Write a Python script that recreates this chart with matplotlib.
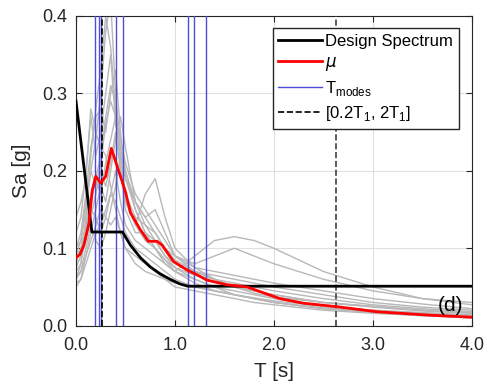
import numpy as np
import matplotlib.pyplot as plt

plt.rcParams['font.family'] = ['Liberation Sans', 'DejaVu Sans']

# periods of the individual record spectra
T_rec = [0, 0.05, 0.1, 0.15, 0.2, 0.25, 0.3, 0.35, 0.4, 0.45, 0.5, 0.6, 0.7,
         0.8, 0.9, 1.0, 1.2, 1.4, 1.6, 1.8, 2.0, 2.5, 3.0, 3.5, 4.0]
records = [
    [0.09, 0.11, 0.16, 0.20, 0.24, 0.30, 0.38, 0.42, 0.30, 0.22, 0.17, 0.13, 0.11, 0.10, 0.08, 0.07, 0.06, 0.05, 0.045, 0.04, 0.035, 0.025, 0.02, 0.016, 0.013],
    [0.06, 0.08, 0.14, 0.22, 0.28, 0.33, 0.40, 0.36, 0.28, 0.20, 0.15, 0.12, 0.12, 0.11, 0.09, 0.075, 0.06, 0.05, 0.04, 0.035, 0.03, 0.022, 0.018, 0.014, 0.011],
    [0.12, 0.14, 0.20, 0.27, 0.22, 0.25, 0.30, 0.35, 0.26, 0.23, 0.19, 0.16, 0.14, 0.15, 0.12, 0.09, 0.07, 0.06, 0.05, 0.042, 0.037, 0.03, 0.024, 0.019, 0.016],
    [0.08, 0.10, 0.13, 0.17, 0.19, 0.17, 0.21, 0.24, 0.27, 0.22, 0.16, 0.13, 0.17, 0.19, 0.14, 0.10, 0.075, 0.06, 0.05, 0.045, 0.04, 0.03, 0.025, 0.02, 0.017],
    [0.05, 0.06, 0.09, 0.12, 0.15, 0.18, 0.16, 0.20, 0.24, 0.27, 0.23, 0.16, 0.13, 0.12, 0.10, 0.09, 0.08, 0.09, 0.10, 0.09, 0.08, 0.06, 0.045, 0.035, 0.03],
    [0.07, 0.08, 0.12, 0.15, 0.14, 0.12, 0.14, 0.17, 0.20, 0.16, 0.13, 0.11, 0.10, 0.09, 0.08, 0.07, 0.09, 0.11, 0.115, 0.11, 0.10, 0.07, 0.05, 0.035, 0.027],
    [0.14, 0.16, 0.19, 0.28, 0.25, 0.23, 0.22, 0.18, 0.15, 0.12, 0.10, 0.09, 0.08, 0.07, 0.06, 0.05, 0.045, 0.04, 0.035, 0.03, 0.027, 0.02, 0.016, 0.013, 0.01],
    [0.06, 0.07, 0.10, 0.13, 0.11, 0.10, 0.12, 0.15, 0.18, 0.22, 0.20, 0.15, 0.12, 0.10, 0.085, 0.075, 0.065, 0.06, 0.055, 0.05, 0.045, 0.035, 0.027, 0.022, 0.018],
    [0.10, 0.12, 0.17, 0.23, 0.27, 0.28, 0.25, 0.30, 0.33, 0.25, 0.19, 0.15, 0.12, 0.10, 0.085, 0.07, 0.055, 0.045, 0.04, 0.035, 0.03, 0.022, 0.017, 0.013, 0.01],
    [0.075, 0.09, 0.11, 0.14, 0.17, 0.20, 0.18, 0.21, 0.25, 0.20, 0.17, 0.14, 0.13, 0.11, 0.09, 0.08, 0.07, 0.065, 0.06, 0.055, 0.05, 0.04, 0.03, 0.024, 0.02],
    [0.09, 0.10, 0.13, 0.16, 0.19, 0.22, 0.27, 0.31, 0.29, 0.24, 0.20, 0.16, 0.14, 0.12, 0.10, 0.085, 0.07, 0.06, 0.05, 0.045, 0.04, 0.03, 0.025, 0.02, 0.016],
    [0.055, 0.06, 0.08, 0.10, 0.12, 0.13, 0.15, 0.17, 0.16, 0.14, 0.12, 0.10, 0.09, 0.08, 0.07, 0.06, 0.05, 0.045, 0.04, 0.035, 0.03, 0.023, 0.018, 0.014, 0.011],
    [0.10, 0.11, 0.15, 0.20, 0.18, 0.21, 0.26, 0.29, 0.27, 0.24, 0.21, 0.17, 0.15, 0.13, 0.11, 0.09, 0.075, 0.07, 0.065, 0.06, 0.055, 0.045, 0.035, 0.028, 0.022],
    [0.065, 0.07, 0.09, 0.11, 0.13, 0.15, 0.14, 0.13, 0.14, 0.12, 0.10, 0.08, 0.07, 0.065, 0.06, 0.055, 0.05, 0.045, 0.04, 0.036, 0.032, 0.025, 0.02, 0.017, 0.014],
]

# mean spectrum
T_mu = [0, 0.04, 0.08, 0.13, 0.165, 0.2, 0.25, 0.3, 0.357, 0.418, 0.5, 0.55, 0.65, 0.73,
        0.82, 0.87, 0.985, 1.12, 1.22, 1.32, 1.52, 1.73, 1.86, 2.06, 2.3, 2.64, 3.04, 3.55, 4.0]
Sa_mu = [0.088, 0.092, 0.104, 0.132, 0.175, 0.193, 0.184, 0.193, 0.229, 0.205, 0.173, 0.146, 0.124, 0.109,
         0.109, 0.104, 0.083, 0.072, 0.066, 0.059, 0.053, 0.05, 0.044, 0.035, 0.029, 0.0245, 0.018, 0.0138, 0.011]

# design spectrum
T_design = [0, 0.16, 0.47, 0.55, 0.65, 0.75, 0.85, 0.95, 1.05, 1.13, 4.0]
Sa_design = [0.29, 0.121, 0.121, 0.104, 0.088, 0.076, 0.067, 0.060, 0.054, 0.051, 0.051]

# modal periods
T_modes = [0.192, 0.233, 0.253, 0.405, 0.473, 1.134, 1.194, 1.316]
T1 = 1.316

fig = plt.figure(figsize=(4.89, 3.87), dpi=100)
ax = fig.add_axes([0.1554, 0.1584, 0.8096, 0.8003])

for r in records:
    ax.plot(T_rec, r, color=(0.72, 0.72, 0.72), lw=1.0, zorder=2)

ax.plot(T_design, Sa_design, color='k', lw=2, label='Design Spectrum', zorder=4)
ax.plot(T_mu, Sa_mu, color='red', lw=2, label=r'$\mu$', zorder=5)
for i, t in enumerate(T_modes):
    ax.axvline(t, color=(0.3, 0.3, 0.85), lw=1.0, zorder=3,
               label='T$_{\\mathregular{modes}}$' if i == 0 else None)
ax.axvline(0.2 * T1, color='k', ls='--', lw=1.2, zorder=3,
           label='[0.2T$_{\\mathregular{1}}$, 2T$_{\\mathregular{1}}$]')
ax.axvline(2 * T1, color=(0.25, 0.25, 0.25), ls='--', lw=1.2, zorder=3)

ax.set_xlim(0, 4)
ax.set_ylim(0, 0.4)
ax.set_xticks([0, 1, 2, 3, 4])
ax.set_xticklabels(['0.0', '1.0', '2.0', '3.0', '4.0'])
ax.set_yticks([0, 0.1, 0.2, 0.3, 0.4])
ax.set_yticklabels(['0.0', '0.1', '0.2', '0.3', '0.4'])
ax.tick_params(direction='in', top=True, right=True, labelsize=13, colors=(0.15, 0.15, 0.15), length=4)
ax.tick_params(axis='x', pad=8)
ax.tick_params(axis='y', pad=6)
ax.grid(True, color=(0.88, 0.88, 0.88), lw=0.8)
ax.set_axisbelow(True)
for s in ax.spines.values():
    s.set_color((0.15, 0.15, 0.15))
ax.set_xlabel('T [s]', fontsize=15, color=(0.15, 0.15, 0.15), labelpad=6)
ax.set_ylabel('Sa [g]', fontsize=15, color=(0.15, 0.15, 0.15), labelpad=8)

ax.text(3.78, 0.0257, '(d)', fontsize=15, ha='center', va='center', zorder=6)

leg = ax.legend(loc='upper right', fontsize=12, handlelength=2.6, handletextpad=0.2,
                labelspacing=0.35, borderpad=0.35, fancybox=False, framealpha=1,
                edgecolor=(0.15, 0.15, 0.15), bbox_to_anchor=(0.988, 0.987))
leg.get_frame().set_linewidth(1.0)

fig.savefig('out.png', dpi=100)
